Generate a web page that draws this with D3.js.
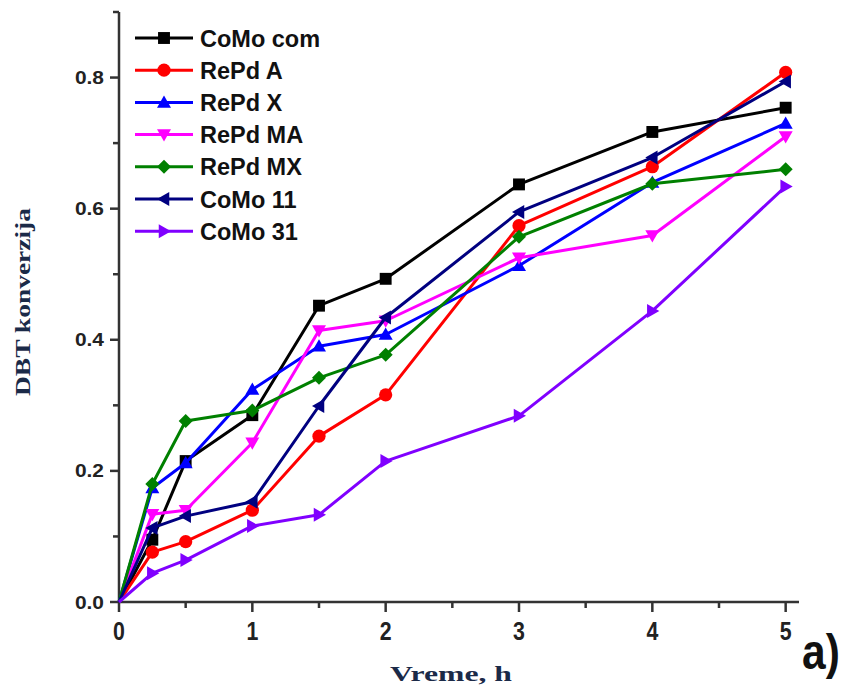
<!DOCTYPE html>
<html><head><meta charset="utf-8">
<script src="https://cdn.jsdelivr.net/npm/d3@7"></script>
<style>body{margin:0;background:#fff}svg{display:block}</style>
</head><body>
<svg id="c" width="856" height="691"></svg>
<script>
const times = [0, 0.25, 0.5, 1, 1.5, 2, 3, 4, 5];
const seriesNames = ["CoMo com","RePd A","RePd X","RePd MA","RePd MX","CoMo 11","CoMo 31"];
const CoMoCom = [0, 0.095, 0.215, 0.285, 0.452, 0.493, 0.637, 0.717, 0.754];
const RePdA   = [0, 0.076, 0.092, 0.140, 0.253, 0.316, 0.574, 0.664, 0.808];
const RePdX   = [0, 0.174, 0.212, 0.324, 0.390, 0.408, 0.513, 0.640, 0.730];
const RePdMA  = [0, 0.134, 0.140, 0.243, 0.414, 0.429, 0.525, 0.559, 0.710];
const RePdMX  = [0, 0.180, 0.276, 0.292, 0.342, 0.377, 0.557, 0.638, 0.660];
const CoMo11  = [0, 0.113, 0.131, 0.153, 0.299, 0.434, 0.595, 0.678, 0.794];
const CoMo31  = [0, 0.044, 0.064, 0.116, 0.133, 0.215, 0.284, 0.444, 0.634];
const xTicks = [0,1,2,3,4,5];
const yTicks = [0,0.2,0.4,0.6,0.8];
const colors = ["#000000","#ff0000","#0000ff","#ff00ff","#008000","#000080","#8000ff"];
const markers = ["square","circle","up","down","diamond","left","right"];
const values = [CoMoCom,RePdA,RePdX,RePdMA,RePdMX,CoMo11,CoMo31];

const svg = d3.select("#c");
const x = d3.scaleLinear().domain([0,5.1]).range([119,799]);
const y = d3.scaleLinear().domain([0,0.9]).range([602,12]);
const sans = "Liberation Sans, Arial, sans-serif";
const serif = "Liberation Serif, Times New Roman, serif";

// axes
const xMinor = d3.range(0,5.01,0.5);
const yMinor = d3.range(0,0.901,0.1);
const gx = svg.append("g").attr("transform","translate(0,602)");
gx.append("line").attr("x1",x(0)-1).attr("x2",x(5.1)).attr("stroke","#333").attr("stroke-width",2.5);
gx.selectAll("line.t").data(xMinor).join("line").attr("class","t")
  .attr("x1",d=>x(d)).attr("x2",d=>x(d)).attr("y1",0).attr("y2",d=>Number.isInteger(d)?10:6)
  .attr("stroke","#333").attr("stroke-width",2.5);
gx.selectAll("text").data(xTicks).join("text")
  .attr("transform",d=>`translate(${x(d)},38) scale(0.82,1)`).attr("text-anchor","middle")
  .attr("font-family",sans).attr("font-weight","bold").attr("font-size",26)
  .attr("fill","#222").text(d=>d);

const gy = svg.append("g").attr("transform","translate(119,0)");
gy.append("line").attr("y1",y(0)+1).attr("y2",y(0.9)).attr("stroke","#333").attr("stroke-width",2.5);
gy.selectAll("line.t").data(yMinor).join("line").attr("class","t")
  .attr("y1",d=>y(d)).attr("y2",d=>y(d)).attr("x1",0).attr("x2",d=>Math.round(d*10)%2===0?-9:-6)
  .attr("stroke","#333").attr("stroke-width",2.5);
gy.selectAll("text").data(yTicks).join("text")
  .attr("transform",d=>`translate(-15,${y(d)+6.5}) scale(1.1,1)`).attr("text-anchor","end")
  .attr("font-family",sans).attr("font-weight","bold").attr("font-size",19)
  .attr("fill","#222").text(d=>d.toFixed(1));

// axis titles
svg.append("text").attr("x",390).attr("y",681)
  .attr("font-family",serif).attr("font-weight","bold").attr("font-size",22)
  .attr("textLength",122).attr("lengthAdjust","spacingAndGlyphs")
  .attr("fill","#1b2a48").text("Vreme, h");
svg.append("text").attr("transform","translate(30,396) rotate(-90)")
  .attr("font-family",serif).attr("font-weight","bold").attr("font-size",21)
  .attr("textLength",188).attr("lengthAdjust","spacingAndGlyphs")
  .attr("fill","#1b2a48").text("DBT konverzija");
svg.append("text").attr("transform","translate(802,669) scale(0.85,1)")
  .attr("font-family",sans).attr("font-weight","bold").attr("font-size",50)
  .attr("fill","#111").text("a)");

function markerPath(type, s){
  const h = s/2;
  switch(type){
    case "square": return `M${-h*0.85},${-h*0.85}h${1.7*h}v${1.7*h}h${-1.7*h}Z`;
    case "circle": return d3.symbol(d3.symbolCircle, s*s*0.7)();
    case "up": return `M0,${-h}L${h},${h*0.75}L${-h},${h*0.75}Z`;
    case "down": return `M0,${h}L${h},${-h*0.75}L${-h},${-h*0.75}Z`;
    case "diamond": return `M0,${-h}L${h},0L0,${h}L${-h},0Z`;
    case "left": return `M${-h},0L${h*0.75},${-h}L${h*0.75},${h}Z`;
    case "right": return `M${h},0L${-h*0.75},${-h}L${-h*0.75},${h}Z`;
  }
}

const line = d3.line().x(d=>x(d[0])).y(d=>y(d[1]));
const plot = svg.append("g");
values.forEach((vals,i)=>{
  const pts = times.map((t,j)=>[t,vals[j]]);
  const g = plot.append("g");
  g.append("path").attr("d",line(pts)).attr("fill","none").attr("stroke",colors[i]).attr("stroke-width",3).attr("stroke-linejoin","round");
  g.selectAll("path.m").data(pts.slice(1)).join("path").attr("class","m")
    .attr("transform",d=>`translate(${x(d[0])},${y(d[1])})`)
    .attr("d",markerPath(markers[i],14)).attr("fill",colors[i]);
});

// legend
const lg = svg.append("g");
seriesNames.forEach((n,i)=>{
  const yy = 38 + i*32.2;
  lg.append("line").attr("x1",135).attr("x2",193).attr("y1",yy).attr("y2",yy).attr("stroke",colors[i]).attr("stroke-width",3);
  lg.append("path").attr("transform",`translate(164,${yy})`).attr("d",markerPath(markers[i],14)).attr("fill",colors[i]);
  lg.append("text").attr("x",200).attr("y",yy+8.5).attr("font-family",sans)
    .attr("font-weight","bold").attr("font-size",23.5).attr("fill","#111").text(n);
});
</script>
</body></html>
